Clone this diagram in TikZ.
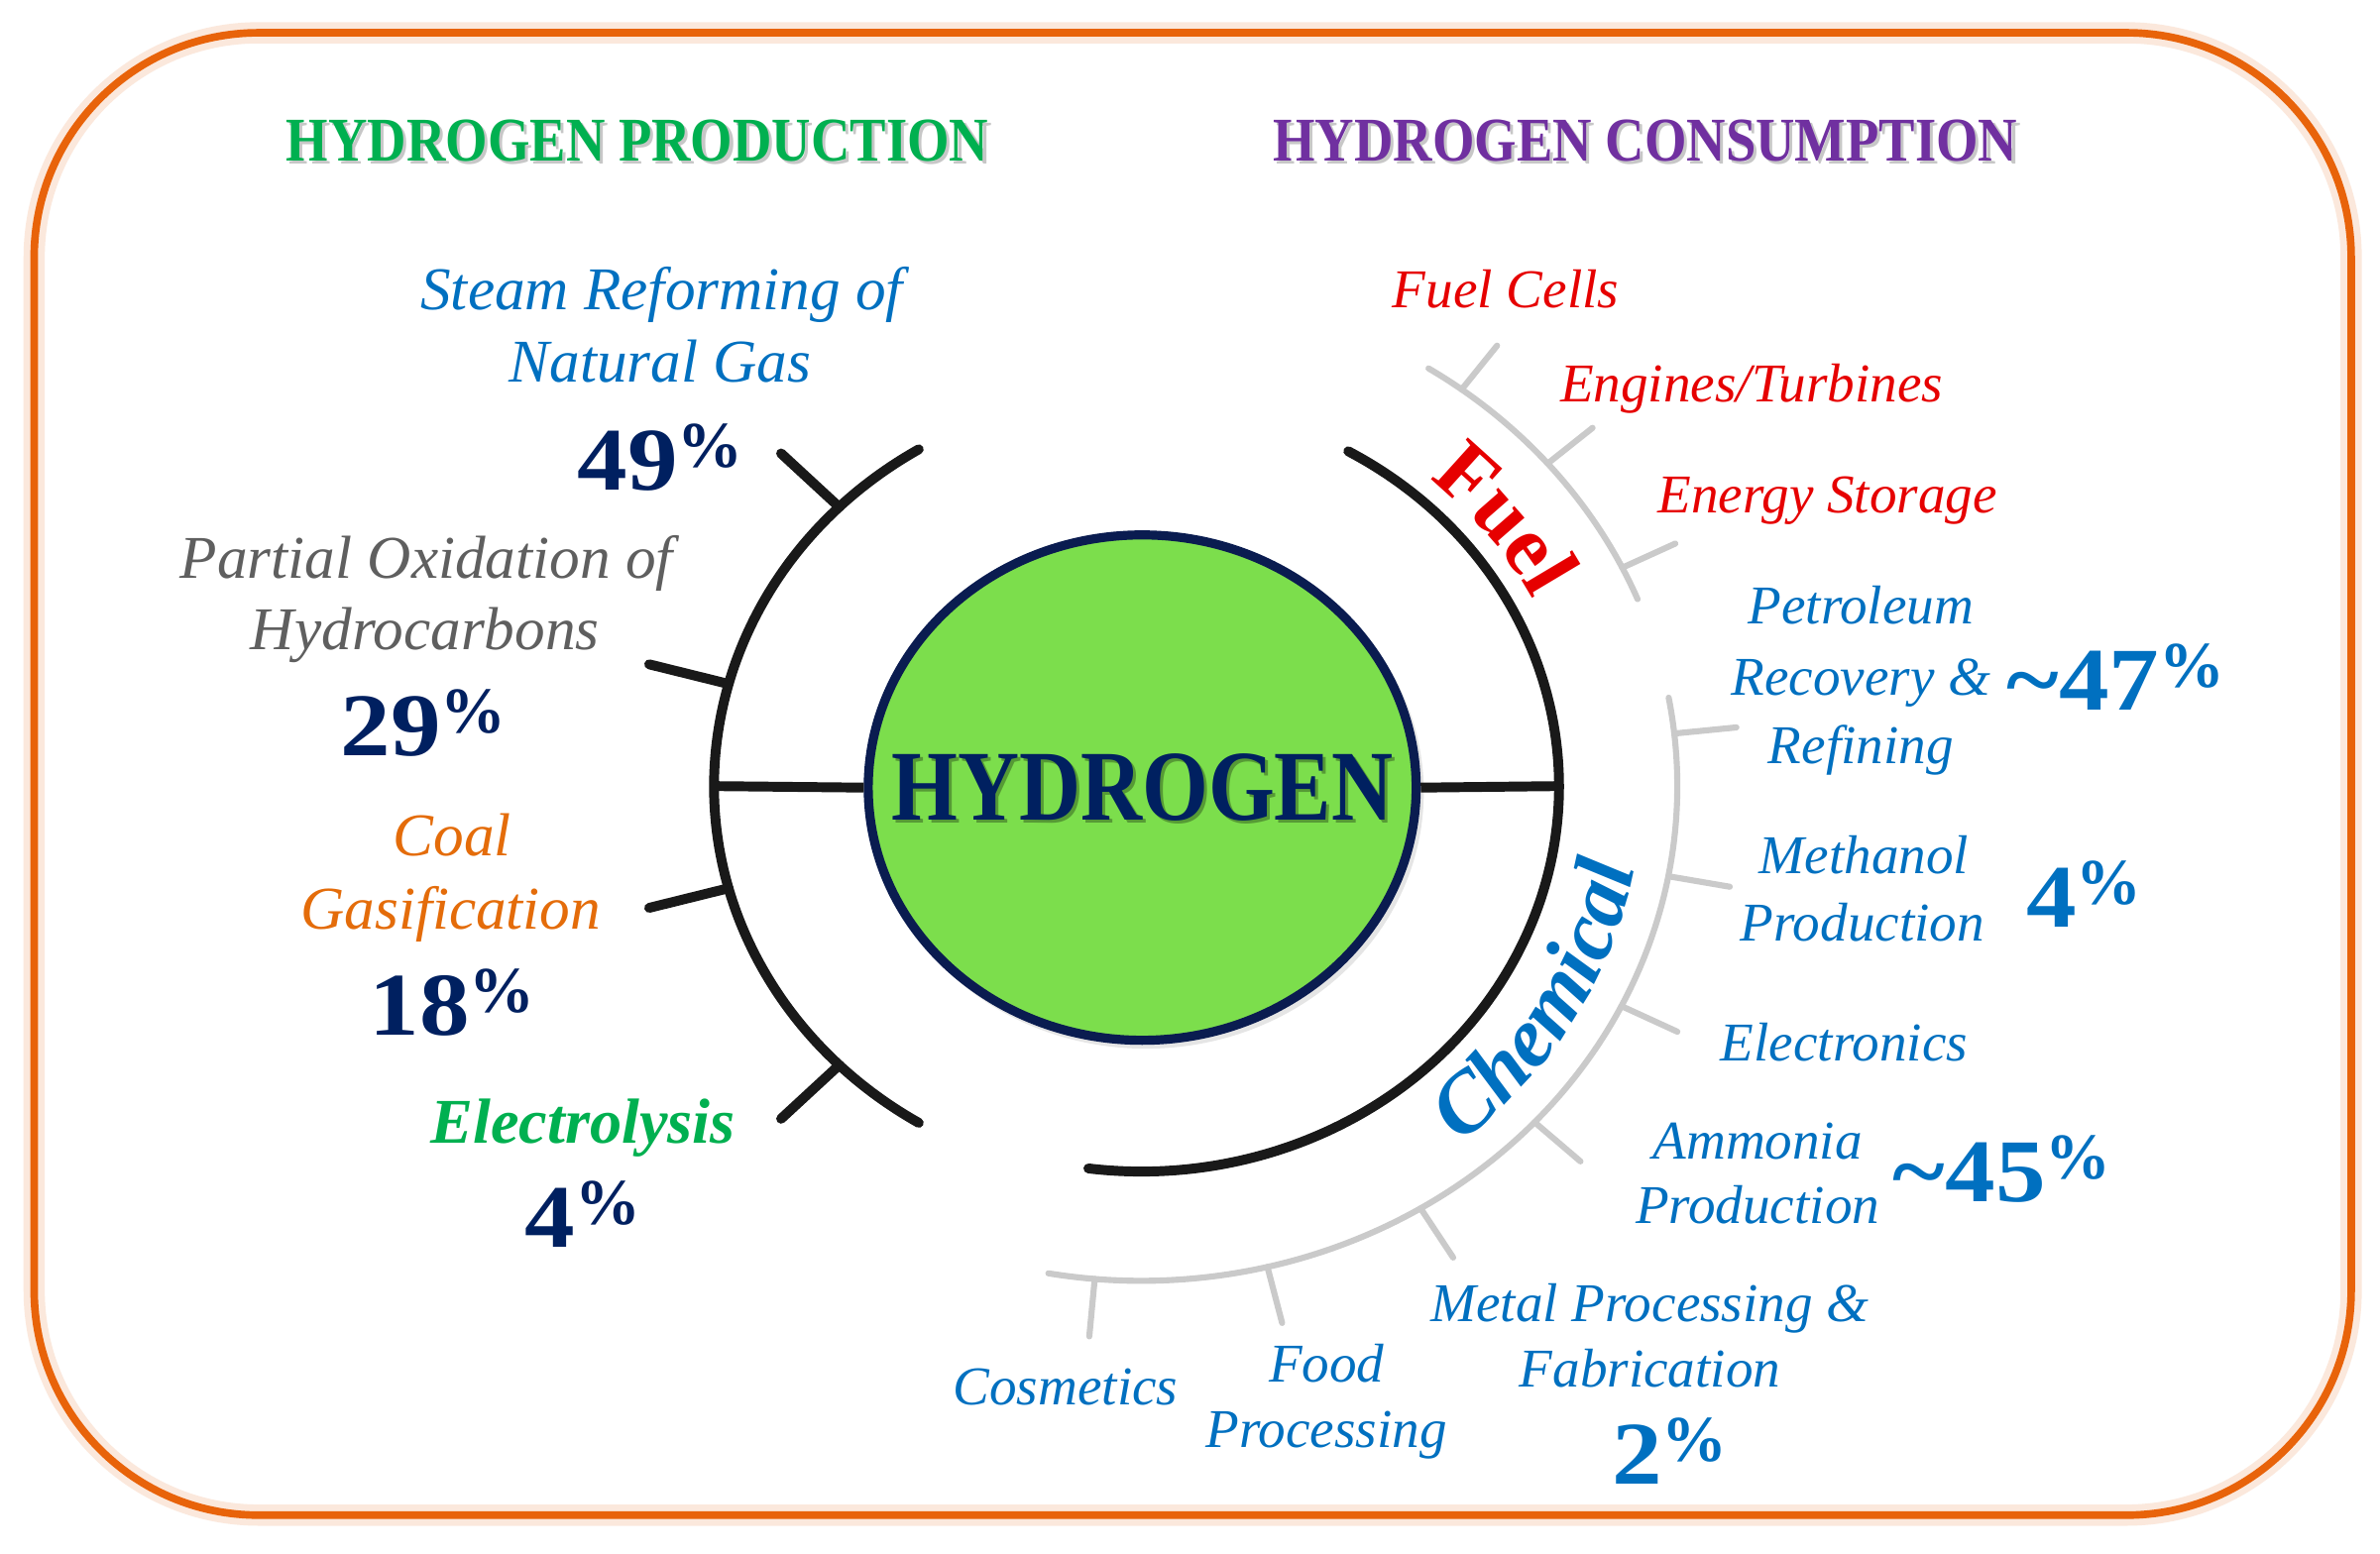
\documentclass[tikz,border=0pt]{standalone}
\usepackage{fontspec}
\setmainfont{Liberation Serif}
\newfontfamily\headfnt[FakeStretch=0.87]{Liberation Serif}
\newfontfamily\hyfnt[FakeStretch=0.85]{Liberation Serif}
\newfontfamily\numfnt[FakeStretch=1.12]{Liberation Serif}
\usetikzlibrary{decorations.text,shapes.geometric}
\definecolor{hgreen}{RGB}{0,176,80}
\definecolor{hpurple}{RGB}{112,48,160}
\definecolor{navy}{RGB}{0,32,96}
\definecolor{lblue}{RGB}{0,112,192}
\definecolor{fred}{RGB}{230,0,0}
\definecolor{tgrey}{RGB}{95,95,95}
\definecolor{torange}{RGB}{228,108,10}
\definecolor{bordercol}{RGB}{232,99,10}
\definecolor{arcgrey}{RGB}{202,202,202}
\definecolor{arcblack}{RGB}{25,25,25}
\definecolor{cgreen}{RGB}{124,222,76}
\definecolor{cnavy}{RGB}{10,28,80}
\newcommand\pctval[1]{{\numfnt\bfseries\fontsize{59}{60}\selectfont #1}\raisebox{15pt}{\bfseries\fontsize{43}{44}\selectfont\%}}
\newcommand\fuelfmt{\bfseries\fontsize{56}{60}\selectfont}
\newcommand\chemfmt{\bfseries\itshape\fontsize{56}{60}\selectfont}
\begin{document}
\begin{tikzpicture}[x=1pt,y=1pt,
  lbl/.style={inner sep=0pt, anchor=base},
  ltxt/.style={lbl, font=\itshape\fontsize{40}{48}\selectfont},
  rtxt/.style={lbl, font=\itshape\fontsize{36}{44}\selectfont},
  hdr/.style={lbl, font=\headfnt\bfseries\fontsize{41}{48}\selectfont},
  blackarc/.style={line width=6.5pt, draw=arcblack, line cap=round},
  greyarc/.style={line width=4pt, draw=arcgrey, line cap=round},
]
\fill[white] (0,0) rectangle (1568,1024);
\useasboundingbox (0,0) rectangle (1568,1024);
% frame
\draw[bordercol, opacity=0.14, line width=14pt, rounded corners=148pt] (22.5,25.6) rectangle (1549,1002.4);
\draw[bordercol, line width=5pt, rounded corners=148pt] (22.5,25.6) rectangle (1549,1002.4);
% headers
\node[hdr, text=black, opacity=0.22] (hpsh) at (422,916) {HYDROGEN PRODUCTION};
\node[hdr, text=hgreen] (hp) at (420,918) {HYDROGEN PRODUCTION};
\node[hdr, text=black, opacity=0.22] (hcsh) at (1086,916) {HYDROGEN CONSUMPTION};
\node[hdr, text=hpurple] (hc) at (1084,918) {HYDROGEN CONSUMPTION};
% arcs
\begin{scope}[shift={(752,506)}, xscale=1.083]
  \coordinate (la) at (180:260);
  \coordinate (ra) at (0:254);
  \draw[blackarc] (121.4:260) arc[start angle=121.4, end angle=238.6, radius=260];
  \foreach \a in {135,165,195,225} \draw[blackarc] (\a:260) -- (\a:310);
  \draw[blackarc] (60.3:254) arc[start angle=60.3, end angle=-97.3, radius=254];
  \draw[greyarc] (57.6:326) arc[start angle=57.6, end angle=22.2, radius=326];
  \foreach \a in {53.3,40.7,26.2} \draw[greyarc] (\a:326) -- (\a:362);
  \draw[greyarc] (10.3:326) arc[start angle=10.3, end angle=-100, radius=326];
  \foreach \a in {6.1,-10.5,-26.4,-42.8,-58.6,-76.4,-95} \draw[greyarc] (\a:326) -- (\a:364);
  \path[decorate, decoration={text along path, text align=center, text color=fred, text={|\fuelfmt|Fuel}}]
    (58:268) arc[start angle=58, end angle=18, radius=268];
  \path[decorate, decoration={text along path, text align=center, text color=lblue, text={|\chemfmt|Chemical}}]
    (-60:305) arc[start angle=-60, end angle=0, radius=305];
\end{scope}
% centre
\fill[black, opacity=0.10] (755,502) ellipse [x radius=183, y radius=169];
\node[ellipse, draw=cnavy, line width=6pt, fill=cgreen, minimum width=361pt, minimum height=333pt, inner sep=0pt] (hy) at (752.5,505) {};
\node[font=\hyfnt\bfseries\fontsize{66}{70}\selectfont, text=black, opacity=0.3, inner sep=0pt] (hysh) at (754.5,503) {HYDROGEN};
\node[font=\hyfnt\bfseries\fontsize{66}{70}\selectfont, text=navy, inner sep=0pt] (hyt) at (752.5,505) {HYDROGEN};
\draw[blackarc, line cap=butt] (la) -- (hy.west);
\draw[blackarc, line cap=butt] (hy.east) -- (ra);
% production labels
\node[ltxt, text=lblue] (sr1) at (436,820) {Steam Reforming of};
\node[ltxt, text=lblue] (sr2) at (435,772) {Natural Gas};
\node[lbl, text=navy] (p49) at (435,701) {\pctval{49}};
\node[ltxt, text=tgrey] (po1) at (281,643) {Partial Oxidation of};
\node[ltxt, text=tgrey] (po2) at (280,596) {Hydrocarbons};
\node[lbl, text=navy] (p29) at (279,526) {\pctval{29}};
\node[ltxt, text=torange] (cg1) at (298,460) {Coal};
\node[ltxt, text=torange] (cg2) at (297,412) {Gasification};
\node[lbl, text=navy] (p18) at (298,342) {\pctval{18}};
\node[lbl, text=hgreen, font=\bfseries\itshape\fontsize{42}{48}\selectfont] (el) at (384,271) {Electrolysis};
\node[lbl, text=navy] (p4l) at (384,202) {\pctval{4}};
% consumption labels
\node[rtxt, text=fred] (fc) at (992,821) {Fuel Cells};
\node[rtxt, text=fred] (et) at (1154,759) {Engines/Turbines};
\node[rtxt, text=fred] (es) at (1204,686) {Energy Storage};
\node[rtxt, text=lblue] (pr1) at (1226,613) {Petroleum};
\node[rtxt, text=lblue] (pr2) at (1226,566) {Recovery \&};
\node[rtxt, text=lblue] (pr3) at (1226,521) {Refining};
\node[lbl, text=lblue] (p47) at (1394,556) {\pctval{\textasciitilde47}};
\node[rtxt, text=lblue] (me1) at (1228,448) {Methanol};
\node[rtxt, text=lblue] (me2) at (1227,404) {Production};
\node[lbl, text=lblue] (p4r) at (1373,413) {\pctval{4}};
\node[rtxt, text=lblue] (ele) at (1215,325) {Electronics};
\node[rtxt, text=lblue] (am1) at (1158,260) {Ammonia};
\node[rtxt, text=lblue] (am2) at (1158,218) {Production};
\node[lbl, text=lblue] (p45) at (1319,232) {\pctval{\textasciitilde45}};
\node[rtxt, text=lblue] (mp1) at (1087,153) {Metal Processing \&};
\node[rtxt, text=lblue] (mp2) at (1087,110) {Fabrication};
\node[lbl, text=lblue] (p2) at (1100,46) {\pctval{2}};
\node[rtxt, text=lblue] (cos) at (702,98) {Cosmetics};
\node[rtxt, text=lblue] (fp1) at (874,113) {Food};
\node[rtxt, text=lblue] (fp2) at (874,70) {Processing};
\end{tikzpicture}
\end{document}
